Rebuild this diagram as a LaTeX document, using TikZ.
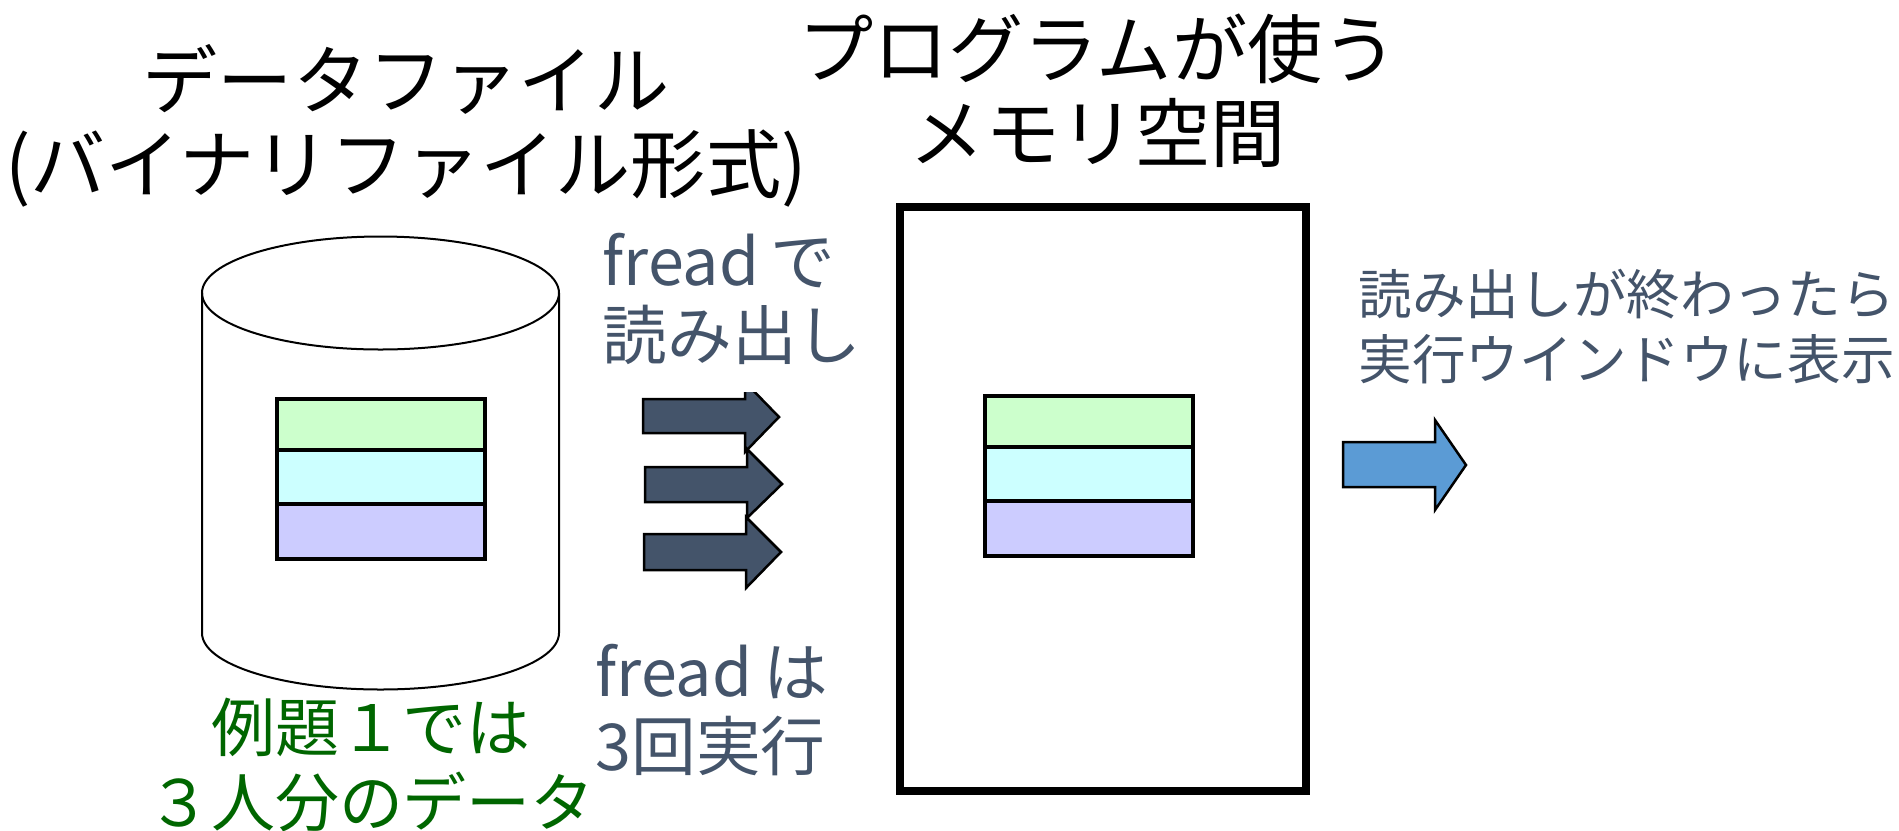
\documentclass[tikz,border=0pt]{standalone}
\usepackage{fontspec}
\setmainfont{Noto Sans CJK JP}
\definecolor{slatetext}{HTML}{44546A}
\definecolor{bluearrow}{HTML}{5B9BD5}
\definecolor{greentext}{HTML}{006600}
\definecolor{recgreen}{HTML}{CCFFCC}
\definecolor{reccyan}{HTML}{CCFFFF}
\definecolor{recblue}{HTML}{CCCCFF}
\tikzset{
	title/.style={font=\fontsize{21.4}{24}\selectfont, align=center, inner sep=0pt},
	note/.style={font=\fontsize{18.4}{20.8}\selectfont, color=slatetext, align=left, anchor=west, inner sep=0pt},
	record/.style={line width=0.036cm},
	readarrow/.style={draw=black, line width=0.025cm, fill=slatetext}
}

\begin{document}
\begin{tikzpicture}
	\useasboundingbox (0, 0) rectangle (18.99, 8.30);
	
	%%%%% titles %%%%%
	\node[title] (filetitle) at (4.06, 7.04) {データファイル\\(バイナリファイル形式)};
	\node[title] (memtitle) at (10.98, 7.39) {プログラムが使う\\メモリ空間};
	
	%%%%% data file %%%%%
	\draw[line width=0.02cm] (2.02, 5.37) -- (2.02, 1.97) arc (180:360:1.785 and 0.565) -- (5.59, 5.37);
	\draw[line width=0.02cm] (3.805, 5.37) ellipse (1.785 and 0.565);
	\draw[record, fill=recgreen] (2.77, 4.31) rectangle (4.85, 3.80);
	\draw[record, fill=reccyan] (2.77, 3.80) rectangle (4.85, 3.26);
	\draw[record, fill=recblue] (2.77, 3.26) rectangle (4.85, 2.71);
	
	%%%%% fread arrows %%%%%
	\draw[readarrow] (6.43, 4.31) -- (7.45, 4.31) -- (7.45, 4.48) -- (7.79, 4.13) -- (7.45, 3.78) -- (7.45, 3.97) -- (6.43, 3.97) -- cycle;
	\draw[readarrow] (6.45, 3.63) -- (7.47, 3.63) -- (7.47, 3.81) -- (7.82, 3.46) -- (7.47, 3.12) -- (7.47, 3.28) -- (6.45, 3.28) -- cycle;
	\draw[readarrow] (6.44, 2.96) -- (7.46, 2.96) -- (7.46, 3.13) -- (7.81, 2.78) -- (7.46, 2.42) -- (7.46, 2.60) -- (6.44, 2.60) -- cycle;
	\fill[white] (6.40, 4.38) rectangle (7.90, 5.00);
	
	\node[note] (readnote) at (6.02, 5.31) {fread\kern-0.05em{} で\\読み出し};
	\node[note] (countnote) at (5.95, 1.20) {fread\kern-0.05em{} は\\3回実行};
	\node[note, font=\fontsize{18.2}{21.3}\selectfont, color=greentext, align=center, anchor=center] (datanote) at (3.71, 0.65) {例題１では\\３人分のデータ};
	
	%%%%% memory %%%%%
	\draw[line width=0.08cm] (9.00, 6.23) rectangle (13.06, 0.39);
	\draw[record, fill=recgreen] (9.85, 4.34) rectangle (11.93, 3.83);
	\draw[record, fill=reccyan] (9.85, 3.83) rectangle (11.93, 3.29);
	\draw[record, fill=recblue] (9.85, 3.29) rectangle (11.93, 2.74);
	
	%%%%% after reading %%%%%
	\draw[line width=0.025cm, fill=bluearrow] (13.43, 3.88) -- (14.35, 3.88) -- (14.35, 4.10) -- (14.66, 3.65) -- (14.35, 3.20) -- (14.35, 3.43) -- (13.43, 3.43) -- cycle;
	\node[note, font=\fontsize{15.25}{18.5}\selectfont] (shownote) at (13.58, 5.03) {読み出しが終わったら\\実行ウインドウに表示};
\end{tikzpicture}
\end{document}
